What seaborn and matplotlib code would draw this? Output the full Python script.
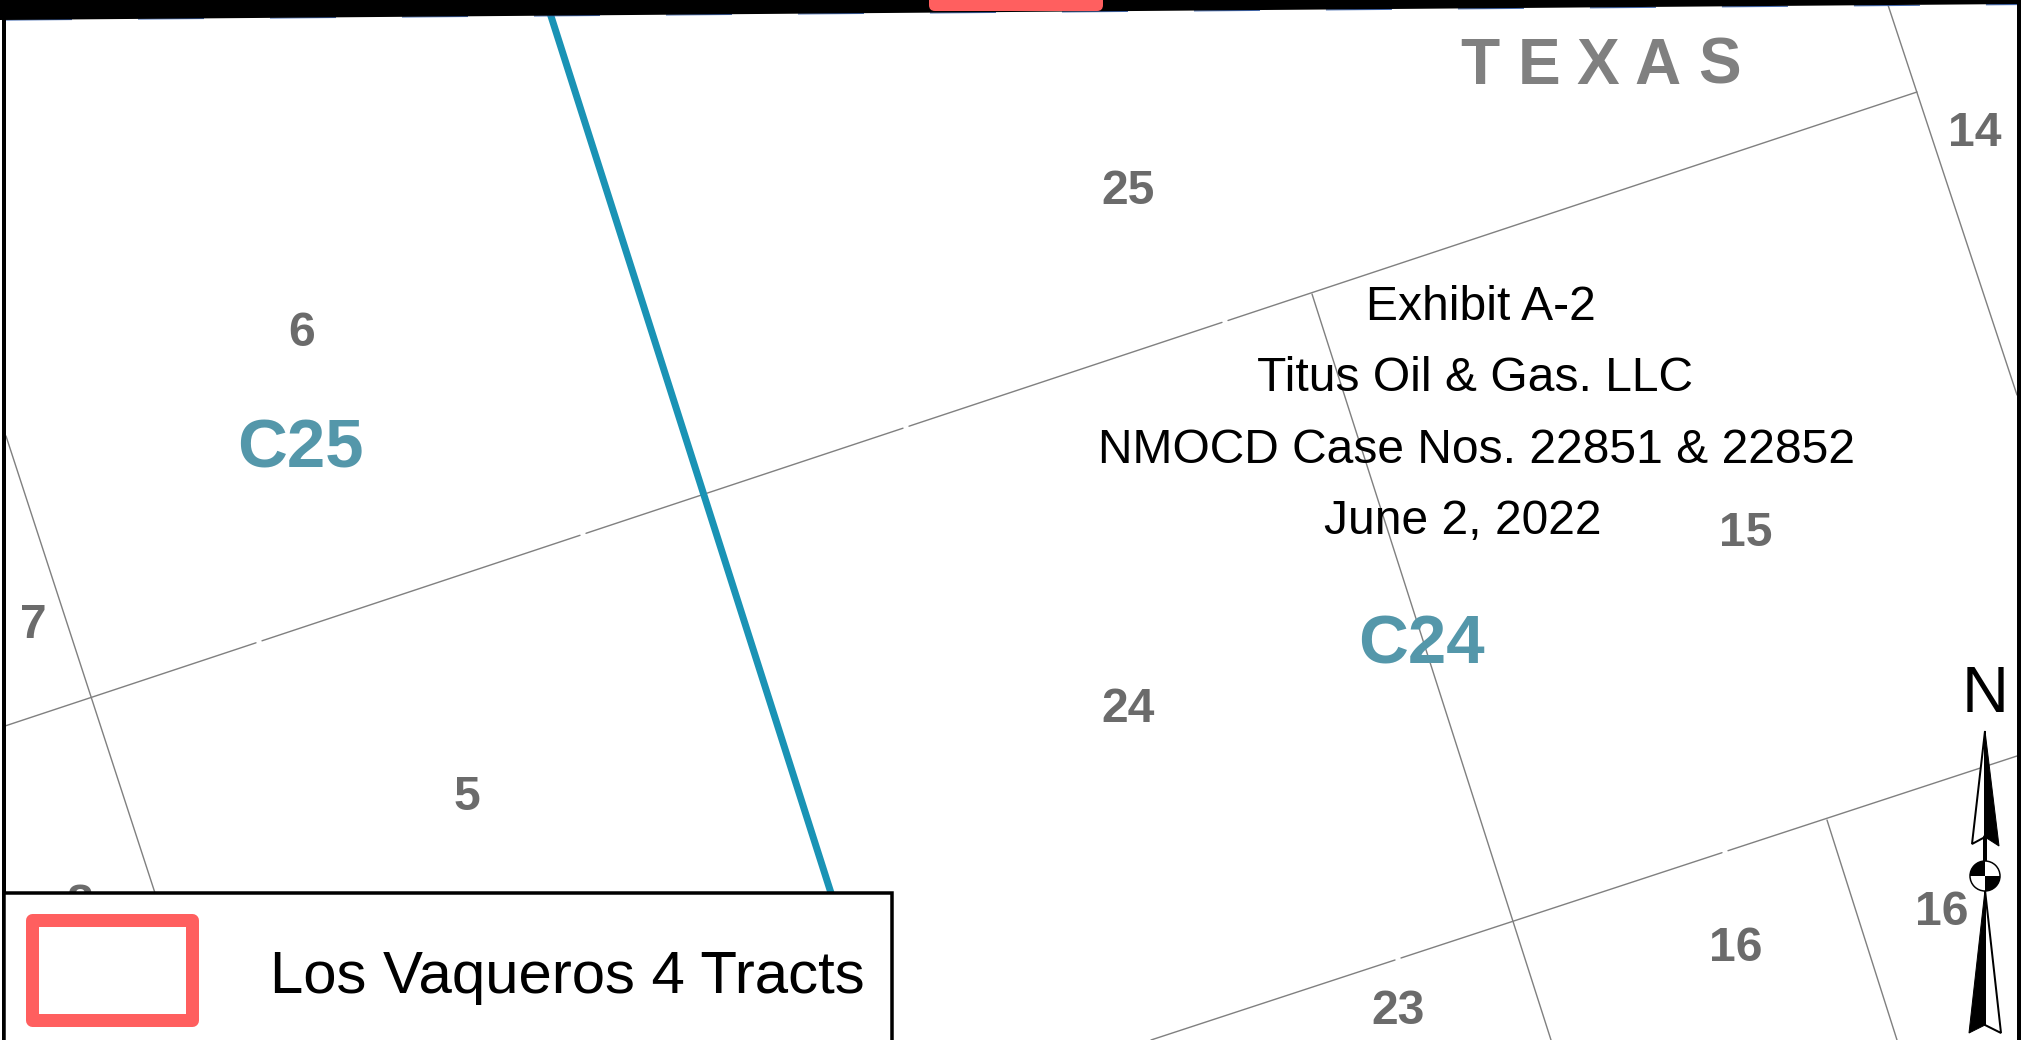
import matplotlib.pyplot as plt
import matplotlib.patches as mpatches
import seaborn as sns
import pandas as pd

# everything is in picture pixels, map sketch so no real axes
W, H = 2021, 1040

sections_x = [[5, 256], [262, 580], [586, 903], [909, 1222], [1228, 1917],
              [1151, 1395], [1401, 1722], [1728, 2017],
              [6, 155], [1888, 2017], [1312, 1551], [1827, 1897]]
sections_y = [[726, 642.8], [640.8, 535.3], [533.3, 428.2], [426.2, 322.4], [320.5, 92],
              [1040, 960], [958, 852.7], [850.7, 756],
              [436, 893], [5, 395], [294, 1040], [820, 1040]]

county_x = [550, 831]
county_y = [13, 893]

band_x = [0, 2021, 2021, 0]
band_y = [0, 0, 4, 20]
band_edge_x = [6, 2017]
band_edge_y = [20, 4.5]

section_labels = ['6', '7', '5', '8', '25', '14', '24', '15', '16', '16', '23']
section_label_x = [302, 33, 467, 80, 1128, 1975, 1128, 1746, 1736, 1942, 1398]
section_label_y = [346, 638, 810, 918, 204, 146, 722, 546, 961, 925, 1024]

block_labels = ['C25', 'C24']
block_label_x = [300, 1421]
block_label_y = [467, 664]

state_letters = ['T', 'E', 'X', 'A', 'S']
state_x = [1480, 1539, 1598, 1658, 1719]

exhibit_lines = ['Exhibit A-2', 'Titus Oil & Gas. LLC', 'NMOCD Case Nos. 22851 & 22852', 'June 2, 2022']
exhibit_x = [1481, 1475, 1476, 1463]
exhibit_y = [320, 391, 463, 534]

GREY_LINE = '#808080'
BLUE_LINE = '#1a93b5'
RED = '#ff5f5f'
LABEL_GREY = '#6b6b6b'
TEAL = '#5497aa'


def px(n):
    # pixels to points at dpi 100
    return n * 0.72


sns.set_theme(style='white')
plt.rcParams['font.family'] = ['Liberation Sans', 'DejaVu Sans']

fig = plt.figure(figsize=(W / 100, H / 100), dpi=100)
ax = fig.add_axes([0, 0, 1, 1])

rows = []
for i, (xs, ys) in enumerate(zip(sections_x, sections_y)):
    for x, y in zip(xs, ys):
        rows.append({'seg': i, 'x': x, 'y': y})
sections = pd.DataFrame(rows)

sns.lineplot(data=sections, x='x', y='y', units='seg', estimator=None, sort=False,
             color=GREY_LINE, linewidth=px(1.4), ax=ax, zorder=2)
sns.lineplot(x=county_x, y=county_y, estimator=None, sort=False, color=BLUE_LINE,
             linewidth=px(7), ax=ax, zorder=3)

ax.set_xlim(0, W)
ax.set_ylim(H, 0)
ax.axis('off')

# top band and frame
ax.fill(band_x, band_y, color='black', lw=0, zorder=5)
edge, = ax.plot(band_edge_x, band_edge_y, color='#2f5aa8', lw=px(1.2), zorder=4, alpha=0.9)
edge.set_dashes((55, 55))
ax.add_patch(mpatches.FancyBboxPatch((929, -20), 174, 31, boxstyle='round,pad=0,rounding_size=6',
                                     fc=RED, ec='none', zorder=6))
ax.fill([2, 6, 6, 2], [0, 0, H, H], color='black', lw=0, zorder=5)
ax.fill([2017, 2021, 2021, 2017], [0, 0, H, H], color='black', lw=0, zorder=5)

for t, x, y in zip(section_labels, section_label_x, section_label_y):
    ax.text(x, y, t, ha='center', va='baseline', fontsize=px(48), fontweight='bold',
            color=LABEL_GREY, zorder=3)
for t, x, y in zip(block_labels, block_label_x, block_label_y):
    ax.text(x, y, t, ha='center', va='baseline', fontsize=px(69), fontweight='bold',
            color=TEAL, zorder=3)
for t, x in zip(state_letters, state_x):
    ax.text(x, 84, t, ha='center', va='baseline', fontsize=px(64), fontweight='bold',
            color='#808080', zorder=3)
for t, x, y in zip(exhibit_lines, exhibit_x, exhibit_y):
    ax.text(x, y, t, ha='center', va='baseline', fontsize=px(48), color='black', zorder=7)

# north arrow
ax.text(1985, 712, 'N', ha='center', va='baseline', fontsize=px(65), color='black', zorder=7)
ax.fill([1985, 1972, 1985], [731, 844, 837], fc='white', ec='black', lw=px(2), zorder=7)
ax.fill([1985, 1999, 1985], [731, 846, 837], fc='black', ec='black', lw=px(1), zorder=7)
ax.plot([1985, 1985], [837, 862], color='black', lw=px(4), zorder=7)
ax.fill([1985, 1969, 1985], [890, 1033, 1025], fc='black', ec='black', lw=px(1), zorder=7)
ax.fill([1985, 2001, 1985], [890, 1033, 1025], fc='white', ec='black', lw=px(2), zorder=7)
ax.add_patch(mpatches.Circle((1985, 876), 15, fc='white', ec='black', lw=px(1.5), zorder=7))
ax.add_patch(mpatches.Wedge((1985, 876), 15, 0, 90, fc='black', ec='none', zorder=8))
ax.add_patch(mpatches.Wedge((1985, 876), 15, 180, 270, fc='black', ec='none', zorder=8))

# legend box
ax.add_patch(mpatches.Rectangle((4, 893), 888, 160, fc='white', ec='black', lw=px(3.5), zorder=9))
ax.add_patch(mpatches.Rectangle((31.5, 920), 160, 100, fc='none', ec=RED, lw=px(13),
                                joinstyle='round', zorder=10))
ax.text(270, 993, 'Los Vaqueros 4 Tracts', ha='left', va='baseline', fontsize=px(60),
        color='black', zorder=10)

fig.savefig('out.png', dpi=100)
